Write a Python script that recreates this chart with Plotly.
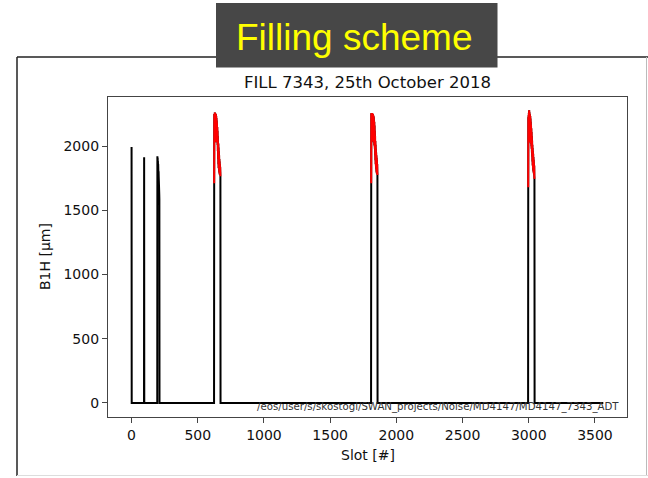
import numpy as np
import plotly.graph_objects as go

# ---------------- data ----------------
n_slots = 3564
single_slots = [0, 95]
single_values = [1994, 1914]

small_train_start = 195
small_train_values = [1922, 1895, 1910, 1870, 1885, 1840, 1860, 1815,
                      1790, 1805, 1760, 1730, 1700, 1665, 1630, 1586]

train_starts = [624, 1810, 2996]
train1_values = [1711, 2250, 2060, 2240, 2100, 2262, 2050, 2230, 2120, 2255, 2040, 2245,
                 2090, 2250, 2070, 2235, 2030, 2220, 2100, 2200, 2040, 2180, 2060, 2150,
                 2030, 2120, 2010, 2080, 1960, 2030, 1900, 2020, 1860, 1990, 1830, 1960,
                 1820, 1930, 1800, 1900, 1790, 1880, 1780, 1860, 1790, 1840, 1800, 1765]
train2_values = [1711, 2255, 2080, 2258, 2060, 2250, 2110, 2258, 2050, 2252, 2090, 2245,
                 2040, 2250, 2120, 2240, 2060, 2235, 2030, 2225, 2080, 2200, 2040, 2190,
                 2010, 2160, 2000, 2120, 1980, 2080, 1930, 2040, 1890, 2010, 1860, 1980,
                 1840, 1950, 1820, 1930, 1800, 1910, 1790, 1890, 1785, 1860, 1800, 1775]
train3_values = [1680, 2225, 2050, 2240, 2080, 2260, 2040, 2280, 2100, 2265, 2060, 2250,
                 2030, 2245, 2090, 2235, 2040, 2215, 2070, 2190, 2020, 2165, 2050, 2140,
                 2000, 2110, 1980, 2080, 1950, 2045, 1920, 2010, 1880, 1985, 1850, 1960,
                 1830, 1940, 1810, 1915, 1800, 1895, 1790, 1870, 1780, 1850, 1770, 1745]
train_values = [train1_values, train2_values, train3_values]

x_ticks = [0, 500, 1000, 1500, 2000, 2500, 3000, 3500]
y_ticks = [0, 500, 1000, 1500, 2000]

# ---------------- build series ----------------
slots = np.arange(n_slots)
b1h = np.zeros(n_slots)
for s, v in zip(single_slots, single_values):
    b1h[s] = v
for i, v in enumerate(small_train_values):
    b1h[small_train_start + i] = v
for start, vals in zip(train_starts, train_values):
    for i, v in enumerate(vals):
        b1h[start + i] = v

red_x, red_y = [], []
for start, vals in zip(train_starts, train_values):
    red_x += list(range(start, start + len(vals))) + [None]
    red_y += list(vals) + [None]

fig = go.Figure()
fig.add_trace(go.Scatter(x=slots, y=b1h, mode="lines",
                         line=dict(color="black", width=2, simplify=False), hoverinfo="skip"))
fig.add_trace(go.Scatter(x=red_x, y=red_y, mode="lines",
                         line=dict(color="#ff0000", width=2, simplify=False), hoverinfo="skip"))

# plot area px: x 108..627, y 97..417
L, R, T, B = 108, 627, 97, 417
W, H = 648, 478
pw, ph = R - L, B - T


def px(x):
    return (x - L) / pw


def py(y):
    return (B - y) / ph


axis_common = dict(showgrid=False, zeroline=False, showline=True, mirror=True,
                   linecolor="#444", linewidth=1.3, ticks="outside", ticklen=5,
                   tickwidth=1, tickcolor="#444",
                   tickfont=dict(family="DejaVu Sans", size=14, color="#111"))

fig.update_xaxes(range=[-178, 3742], tickvals=x_ticks, **axis_common)
fig.update_yaxes(range=[-110, 2383], tickvals=y_ticks, **axis_common)

shapes = [
    # slide frame
    dict(type="line", xref="paper", yref="paper", x0=px(17), x1=px(648), y0=py(57), y1=py(57),
         line=dict(color="#222", width=1.5)),
    dict(type="line", xref="paper", yref="paper", x0=px(17), x1=px(17), y0=py(57), y1=py(476),
         line=dict(color="#222", width=1.5)),
    dict(type="line", xref="paper", yref="paper", x0=px(646.5), x1=px(646.5), y0=py(57), y1=py(476),
         line=dict(color="#bbb", width=1)),
    dict(type="line", xref="paper", yref="paper", x0=px(17), x1=px(648), y0=py(475.5), y1=py(475.5),
         line=dict(color="#ddd", width=1)),
    # title box
    dict(type="rect", xref="paper", yref="paper", x0=px(216), x1=px(497.5), y0=py(3), y1=py(67.5),
         fillcolor="#474747", line=dict(width=0)),
]

annotations = [
    dict(text="Filling scheme", xref="paper", yref="paper", x=px(354), y=py(37),
         xanchor="center", yanchor="middle", showarrow=False,
         font=dict(family="Liberation Sans", size=37, color="#ffff00")),
    dict(text="FILL 7343, 25th October 2018", xref="paper", yref="paper", x=0.5, y=py(82),
         xanchor="center", yanchor="middle", showarrow=False,
         font=dict(family="DejaVu Sans", size=16.5, color="#111")),
    dict(text="Slot [#]", xref="paper", yref="paper", x=0.5, y=py(455),
         xanchor="center", yanchor="middle", showarrow=False,
         font=dict(family="DejaVu Sans", size=14, color="#111")),
    dict(text="B1H [μm]", xref="paper", yref="paper", x=px(45), y=0.5, textangle=-90,
         xanchor="center", yanchor="middle", showarrow=False,
         font=dict(family="DejaVu Sans", size=14, color="#111")),
    dict(text="/eos/user/s/skostogl/SWAN_projects/Noise/MD4147/MD4147_7343_ADT",
         xref="paper", yref="paper", x=px(621), y=py(407),
         xanchor="right", yanchor="middle", showarrow=False,
         font=dict(family="DejaVu Sans", size=10.2, color="#333")),
]

fig.update_layout(width=W, height=H, autosize=False,
                  margin=dict(l=L, r=W - R, t=T, b=H - B, pad=0),
                  paper_bgcolor="white", plot_bgcolor="white",
                  showlegend=False, shapes=shapes, annotations=annotations)

fig.write_html("out.html")
